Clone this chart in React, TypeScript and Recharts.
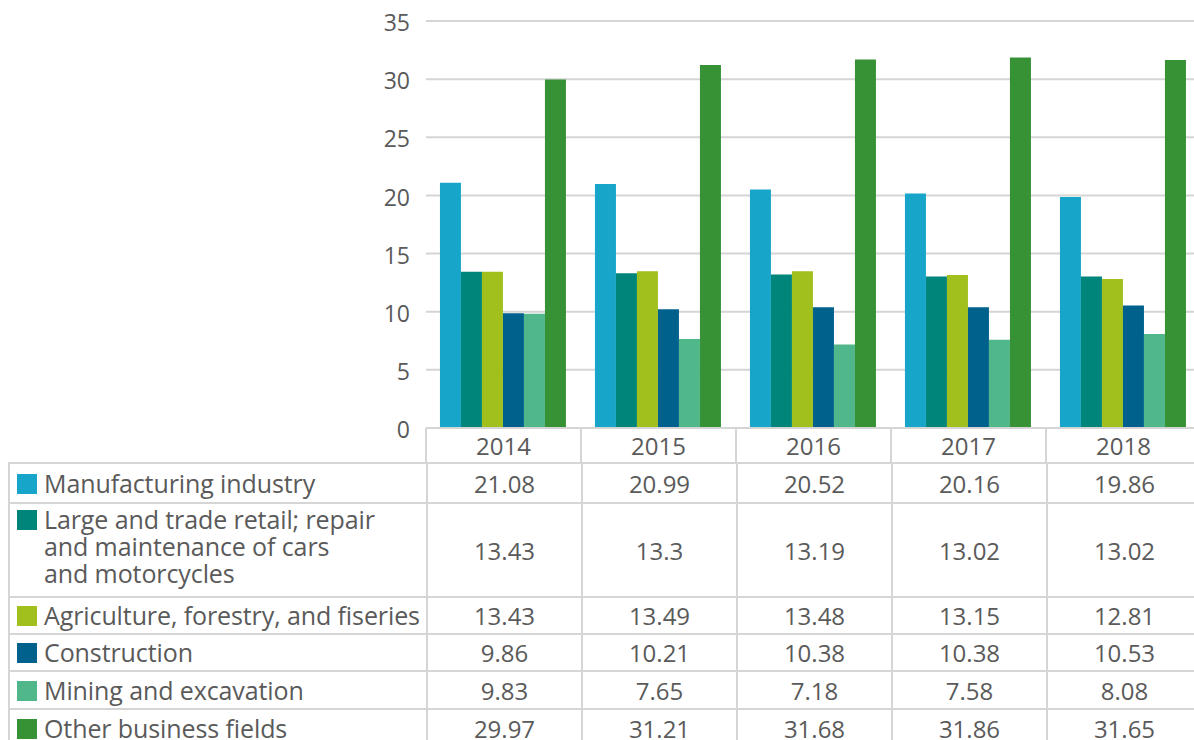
import React from 'react';
import { BarChart, Bar, XAxis, YAxis, CartesianGrid } from 'recharts';

const years = ['2014', '2015', '2016', '2017', '2018'];
const manufacturing = [21.08, 20.99, 20.52, 20.16, 19.86];
const tradeRetail = [13.43, 13.3, 13.19, 13.02, 13.02];
const agriculture = [13.43, 13.49, 13.48, 13.15, 12.81];
const construction = [9.86, 10.21, 10.38, 10.38, 10.53];
const mining = [9.83, 7.65, 7.18, 7.58, 8.08];
const otherFields = [29.97, 31.21, 31.68, 31.86, 31.65];
const yTicks = [0, 5, 10, 15, 20, 25, 30, 35];

const series = [
  { key: 'manufacturing', label: ['Manufacturing industry'], color: '#17a6c9', values: manufacturing },
  {
    key: 'tradeRetail',
    label: ['Large and trade retail; repair', 'and maintenance of cars', 'and motorcycles'],
    color: '#00857a',
    values: tradeRetail,
  },
  { key: 'agriculture', label: ['Agriculture, forestry, and fiseries'], color: '#a1bf1d', values: agriculture },
  { key: 'construction', label: ['Construction'], color: '#00618d', values: construction },
  { key: 'mining', label: ['Mining and excavation'], color: '#50b78b', values: mining },
  { key: 'otherFields', label: ['Other business fields'], color: '#379236', values: otherFields },
];

const rows = years.map((year, i) => {
  const row: Record<string, string | number> = { year };
  series.forEach((s) => {
    row[s.key] = s.values[i];
  });
  return row;
});

const FONT = '"Open Sans", Lato, sans-serif';
const TEXT = '#5a5a5a';
const LINE = '#d5d5d5';
const ROW_HEIGHTS = [40, 94, 37, 37, 38, 38];
const LEGEND_COL = 418;
const YEAR_COL = 155;

// year header cell: label plus the cell separators under the plot
function YearTick(props: any) {
  const { x, y, payload, index, visibleTicksCount } = props;
  const half = payload?.offset ?? YEAR_COL / 2;
  const isLast = index === visibleTicksCount - 1;
  return (
    <g>
      <line x1={x - half} x2={x - half} y1={y} y2={y + 34} stroke={LINE} strokeWidth={2} />
      {isLast && <line x1={x + half} x2={x + half} y1={y} y2={y + 34} stroke={LINE} strokeWidth={2} />}
      <text
        x={x}
        y={y + 17}
        textAnchor="middle"
        dominantBaseline="central"
        fill={TEXT}
        fontSize={24}
        fontFamily={FONT}
      >
        {payload.value}
      </text>
    </g>
  );
}

const cellBorder = `2px solid ${LINE}`;

export default function App() {
  return (
    <div
      style={{
        position: 'absolute',
        left: 0,
        top: 0,
        width: 1194,
        height: 740,
        overflow: 'hidden',
        fontFamily: FONT,
      }}
    >
      <div style={{ marginLeft: 8 }}>
        <BarChart
          width={1200}
          height={462}
          data={rows}
          margin={{ top: 21, right: 7, bottom: 0, left: 0 }}
          barCategoryGap="9%"
          barGap={0}
        >
          <CartesianGrid vertical={false} stroke={LINE} strokeWidth={2} />
          <YAxis
            domain={[0, 35]}
            ticks={yTicks}
            width={LEGEND_COL}
            axisLine={false}
            tickLine={false}
            tickSize={0}
            tickMargin={16}
            tick={{ fill: TEXT, fontSize: 23, fontFamily: FONT, dy: 2 }}
          />
          <XAxis
            dataKey="year"
            height={34}
            axisLine={{ stroke: LINE, strokeWidth: 2 }}
            tickLine={false}
            tickSize={0}
            tickMargin={0}
            interval={0}
            tick={<YearTick />}
          />
          {series.map((s) => (
            <Bar key={s.key} dataKey={s.key} name={s.label.join(' ')} fill={s.color} isAnimationActive={false} />
          ))}
        </BarChart>
        <table
          style={{
            borderCollapse: 'collapse',
            tableLayout: 'fixed',
            width: LEGEND_COL + YEAR_COL * years.length,
            color: TEXT,
            fontSize: 24,
          }}
        >
          <colgroup>
            <col style={{ width: LEGEND_COL }} />
            {years.map((y) => (
              <col key={y} style={{ width: YEAR_COL }} />
            ))}
          </colgroup>
          <tbody>
            {series.map((s, r) => (
              <tr key={s.key} style={{ height: ROW_HEIGHTS[r] }}>
                <td
                  style={{
                    border: cellBorder,
                    padding: s.label.length > 1 ? '0 0 8px 7px' : '0 0 0 7px',
                    verticalAlign: 'middle',
                  }}
                >
                  <div style={{ display: 'flex', alignItems: 'flex-start', lineHeight: '27px', fontSize: 25 }}>
                    <span
                      style={{
                        display: 'inline-block',
                        width: 20,
                        height: 20,
                        background: s.color,
                        marginTop: 4,
                        marginRight: 7,
                        flex: 'none',
                      }}
                    />
                    <span style={{ whiteSpace: 'nowrap', letterSpacing: '-0.1px' }}>
                      {s.label.map((line) => (
                        <div key={line}>{line}</div>
                      ))}
                    </span>
                  </div>
                </td>
                {s.values.map((v, i) => (
                  <td key={years[i]} style={{ border: cellBorder, textAlign: 'center', padding: 0 }}>
                    {String(v)}
                  </td>
                ))}
              </tr>
            ))}
          </tbody>
        </table>
      </div>
    </div>
  );
}
